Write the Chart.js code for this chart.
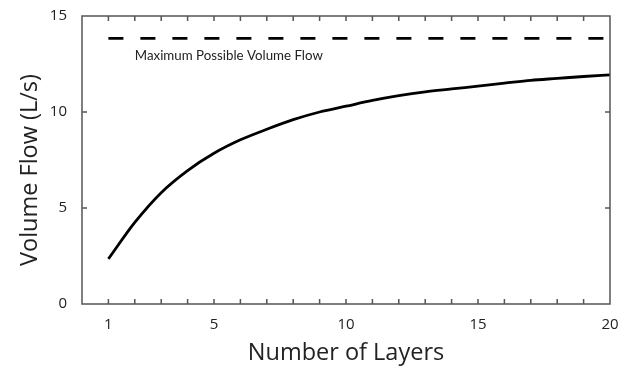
<!DOCTYPE html>
<html>
<head>
<meta charset="utf-8">
<script src="https://cdn.jsdelivr.net/npm/chart.js@4.4.1/dist/chart.umd.min.js"></script>
<style>
  html, body { margin: 0; padding: 0; background: #fff; }
  #wrap { width: 632px; height: 368px; }
</style>
</head>
<body>
<div id="wrap"><canvas id="c"></canvas></div>
<script>
// Volume flow versus number of layers
const layers = [1, 2, 3, 4, 5, 6, 7, 8, 9, 10, 11, 12, 13, 14, 15, 16, 17, 18, 19, 20];
const flow = [2.35, 4.25, 5.8, 6.95, 7.85, 8.55, 9.1, 9.6, 10.0, 10.3, 10.6, 10.85, 11.05, 11.2, 11.35, 11.5, 11.65, 11.75, 11.85, 11.93];
const maxFlowRange = [1, 20];
const maxFlow = 13.83;
const xLabels = [1, 5, 10, 15, 20];
const yLabels = [0, 5, 10, 15];
const noteText = "Maximum Possible Volume Flow";
const notePos = [2, 12.95];
const yTitle = "Volume Flow (L/s)";

const axisColor = "#555";
const textColor = "#222";
const fontFam = "'Open Sans', 'Noto Sans', sans-serif";

// frame, inward ticks, annotation and the y title
const frameTicks = {
  id: "frameTicks",
  afterDatasetsDraw(chart) {
    const { ctx, chartArea: a, scales: { x, y } } = chart;
    ctx.save();
    ctx.strokeStyle = axisColor;
    ctx.lineWidth = 1.5;
    ctx.strokeRect(a.left, a.top, a.right - a.left, a.bottom - a.top);
    ctx.beginPath();
    x.ticks.forEach(t => {
      const px = x.getPixelForValue(t.value);
      if (px <= a.left + 1 || px >= a.right - 1) return;
      ctx.moveTo(px, a.bottom); ctx.lineTo(px, a.bottom - 5);
      ctx.moveTo(px, a.top); ctx.lineTo(px, a.top + 5);
    });
    y.ticks.forEach(t => {
      const py = y.getPixelForValue(t.value);
      if (py >= a.bottom - 1 || py <= a.top + 1) return;
      ctx.moveTo(a.left, py); ctx.lineTo(a.left + 5, py);
      ctx.moveTo(a.right, py); ctx.lineTo(a.right - 5, py);
    });
    ctx.stroke();

    ctx.fillStyle = textColor;
    ctx.font = "13.3px Lato, " + fontFam;
    ctx.textAlign = "left";
    ctx.textBaseline = "middle";
    ctx.fillText(noteText, x.getPixelForValue(notePos[0]), y.getPixelForValue(notePos[1]));

    // y title sits a bit below the middle of the axis
    ctx.translate(37, (a.top + a.bottom) / 2 + 10);
    ctx.rotate(-Math.PI / 2);
    ctx.font = "23.5px " + fontFam;
    ctx.textAlign = "center";
    ctx.textBaseline = "alphabetic";
    ctx.fillText(yTitle, 0, 0);
    ctx.restore();
  }
};

new Chart(document.getElementById("c"), {
  type: "line",
  data: {
    datasets: [
      {
        data: layers.map((l, i) => ({ x: l, y: flow[i] })),
        borderColor: "#000",
        borderWidth: 2.8,
        pointRadius: 0,
        cubicInterpolationMode: "monotone",
        clip: false
      },
      {
        data: maxFlowRange.map(l => ({ x: l, y: maxFlow })),
        borderColor: "#000",
        borderWidth: 2.8,
        borderDash: [15, 17],
        pointRadius: 0
      }
    ]
  },
  options: {
    responsive: true,
    maintainAspectRatio: false,
    animation: false,
    layout: { padding: { top: 14, right: 22, left: 0, bottom: 0 } },
    plugins: { legend: { display: false }, tooltip: { enabled: false } },
    scales: {
      x: {
        type: "linear",
        min: 0,
        max: 20,
        afterFit: s => { s.height = 64; },
        grid: { display: false },
        border: { display: false },
        ticks: {
          stepSize: 1,
          autoSkip: false,
          maxRotation: 0,
          padding: 4,
          color: textColor,
          font: { family: fontFam, size: 15 },
          callback: v => xLabels.includes(v) ? String(v) : ""
        },
        title: {
          display: true,
          text: "Number of Layers",
          color: textColor,
          font: { family: fontFam, size: 23.5 },
          padding: { top: 0, bottom: 1 }
        }
      },
      y: {
        min: 0,
        max: 15,
        afterFit: s => { s.width = 82; },
        grid: { display: false },
        border: { display: false },
        ticks: {
          stepSize: 5,
          padding: 7,
          color: textColor,
          font: { family: fontFam, size: 15 },
          callback: v => yLabels.includes(v) ? String(v) : ""
        },
        title: { display: false }
      }
    }
  },
  plugins: [frameTicks]
});
</script>
</body>
</html>
